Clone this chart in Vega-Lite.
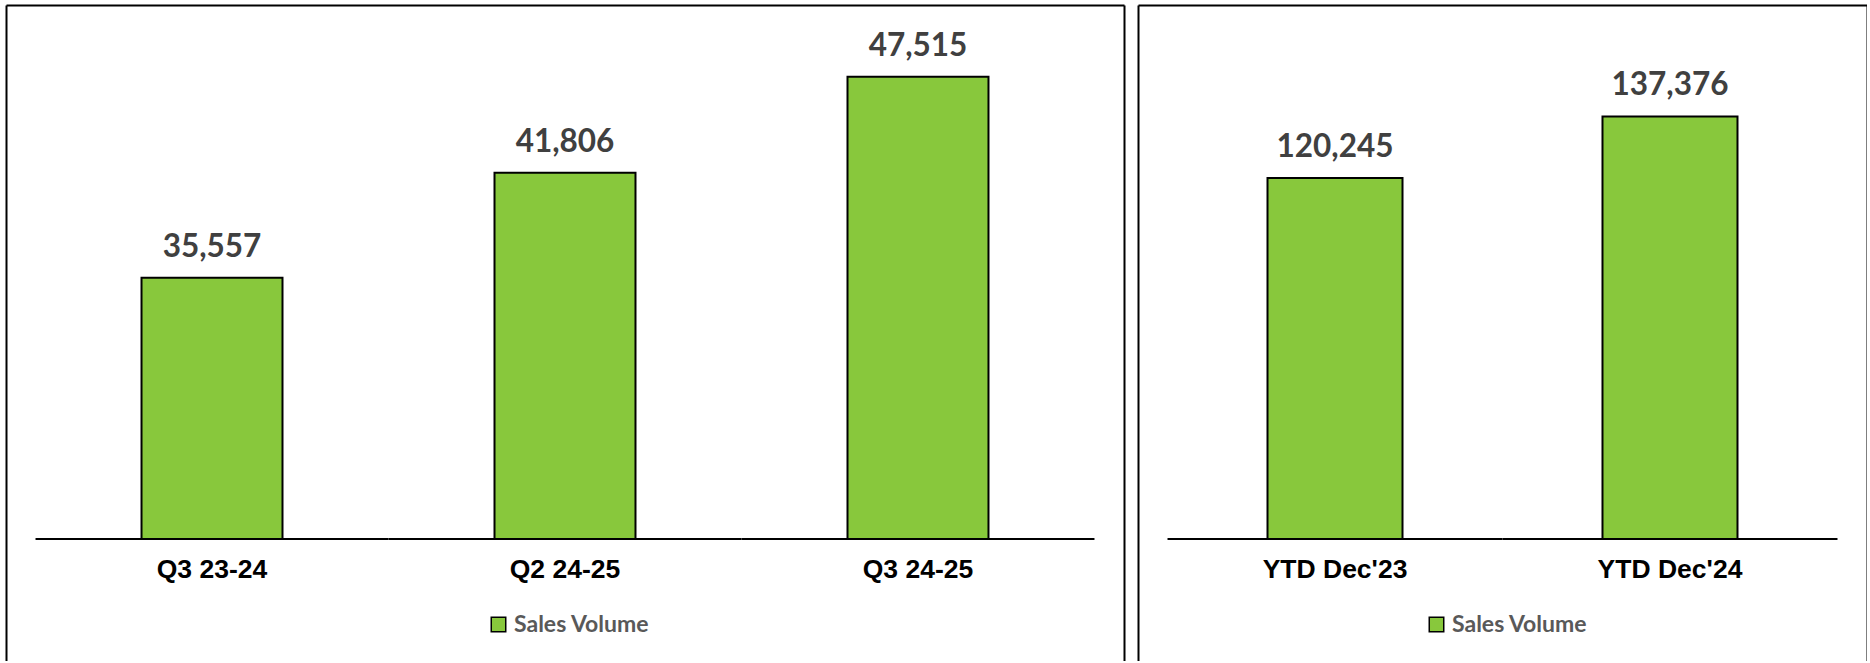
{
  "$schema": "https://vega.github.io/schema/vega-lite/v6.json",
  "padding": {"left": 6, "top": 5, "right": 0, "bottom": 0},
  "background": "white",
  "spacing": 14,
  "config": {"view": {"stroke": null}, "font": "Lato"},
  "resolve": {"scale": {"color": "independent"}, "legend": {"color": "independent"}},
  "datasets": {
    "quarterly": [
      {"period": "Q3 23-24", "sales": 35557},
      {"period": "Q2 24-25", "sales": 41806},
      {"period": "Q3 24-25", "sales": 47515}
    ],
    "ytd": [
      {"period": "YTD Dec'23", "sales": 120245},
      {"period": "YTD Dec'24", "sales": 137376}
    ]
  },
  "hconcat": [
    {
      "width": 1118,
      "height": 656,
      "data": {"name": "quarterly"},
      "resolve": {"axis": {"x": "independent", "y": "independent"}},
      "layer": [
        {
          "mark": {"type": "bar", "stroke": "black", "strokeWidth": 2},
          "encoding": {
            "x": {
              "field": "period", "type": "nominal", "sort": null,
              "scale": {"paddingInner": 0.6006, "paddingOuter": 0.3839},
              "axis": {"orient": "bottom", "offset": -122, "domain": false, "ticks": false, "grid": false,
                       "labelPadding": 17, "labelAngle": 0, "labelFont": "Liberation Sans", "labelFontWeight": "bold",
                       "labelFontSize": 26.5, "labelColor": "black", "title": null}
            },
            "y": {
              "field": "sales", "type": "quantitative",
              "scale": {"domain": [12738.1, 51785.7], "nice": false, "zero": false},
              "axis": {"orient": "left", "labels": false, "ticks": false, "grid": false, "title": null,
                       "domainColor": "black", "domainWidth": 2}
            },
            "y2": {"datum": 20000},
            "color": {
              "datum": "Sales Volume",
              "scale": {"range": ["#88C83C"]},
              "legend": {"orient": "none", "legendX": 481, "legendY": 608, "title": null,
                         "symbolType": "square", "symbolSize": 210, "symbolStrokeColor": "black", "symbolStrokeWidth": 1.5,
                         "labelFont": "Lato", "labelFontWeight": "bold", "labelFontSize": 23, "labelColor": "#595959", "labelOffset": 4}
            }
          }
        },
        {
          "mark": {"type": "text", "dy": -21, "baseline": "alphabetic", "font": "Lato", "fontWeight": "bold", "fontSize": 31.5, "color": "#404040"},
          "encoding": {
            "x": {"field": "period", "type": "nominal", "sort": null, "axis": null},
            "y": {"field": "sales", "type": "quantitative", "axis": null},
            "text": {"field": "sales", "type": "quantitative", "format": ","}
          }
        },
        {
          "mark": {"type": "rule", "color": "black", "strokeWidth": 2},
          "encoding": {
            "x": {"field": "period", "type": "nominal", "sort": null, "bandPosition": -0.7518,
                  "axis": {"orient": "top", "labels": false, "ticks": false, "grid": false, "title": null,
                           "domainColor": "black", "domainWidth": 2}},
            "x2": {"field": "period", "bandPosition": 1.7518},
            "y": {"datum": 20000, "type": "quantitative",
                  "axis": {"orient": "right", "labels": false, "ticks": false, "grid": false, "title": null,
                           "domainColor": "black", "domainWidth": 2}}
          }
        }
      ]
    },
    {
      "width": 729,
      "height": 656,
      "data": {"name": "ytd"},
      "resolve": {"axis": {"x": "independent", "y": "independent"}},
      "layer": [
        {
          "mark": {"type": "bar", "stroke": "black", "strokeWidth": 2},
          "encoding": {
            "x": {
              "field": "period", "type": "nominal", "sort": null,
              "scale": {"paddingInner": 0.597, "paddingOuter": 0.3866},
              "axis": {"orient": "bottom", "offset": -122, "domain": false, "ticks": false, "grid": false,
                       "labelPadding": 17, "labelAngle": 0, "labelFont": "Liberation Sans", "labelFontWeight": "bold",
                       "labelFontSize": 26.5, "labelColor": "black", "title": null}
            },
            "y": {
              "field": "sales", "type": "quantitative",
              "scale": {"domain": [-13888.9, 168333.3], "nice": false, "zero": false},
              "axis": {"orient": "left", "labels": false, "ticks": false, "grid": false, "title": null,
                       "domainColor": "black", "domainWidth": 2}
            },
            "y2": {"datum": 20000},
            "color": {
              "datum": "Sales Volume",
              "scale": {"range": ["#88C83C"]},
              "legend": {"orient": "none", "legendX": 287, "legendY": 608, "title": null,
                         "symbolType": "square", "symbolSize": 210, "symbolStrokeColor": "black", "symbolStrokeWidth": 1.5,
                         "labelFont": "Lato", "labelFontWeight": "bold", "labelFontSize": 23, "labelColor": "#595959", "labelOffset": 4}
            }
          }
        },
        {
          "mark": {"type": "text", "dy": -21, "baseline": "alphabetic", "font": "Lato", "fontWeight": "bold", "fontSize": 31.5, "color": "#404040"},
          "encoding": {
            "x": {"field": "period", "type": "nominal", "sort": null, "axis": null},
            "y": {"field": "sales", "type": "quantitative", "axis": null},
            "text": {"field": "sales", "type": "quantitative", "format": ","}
          }
        },
        {
          "mark": {"type": "rule", "color": "black", "strokeWidth": 2},
          "encoding": {
            "x": {"field": "period", "type": "nominal", "sort": null, "bandPosition": -0.7407,
                  "axis": {"orient": "top", "labels": false, "ticks": false, "grid": false, "title": null,
                           "domainColor": "black", "domainWidth": 2}},
            "x2": {"field": "period", "bandPosition": 1.7407},
            "y": {"datum": 20000, "type": "quantitative",
                  "axis": {"orient": "right", "labels": false, "ticks": false, "grid": false, "title": null,
                           "domainColor": "black", "domainWidth": 2}}
          }
        }
      ]
    }
  ]
}
